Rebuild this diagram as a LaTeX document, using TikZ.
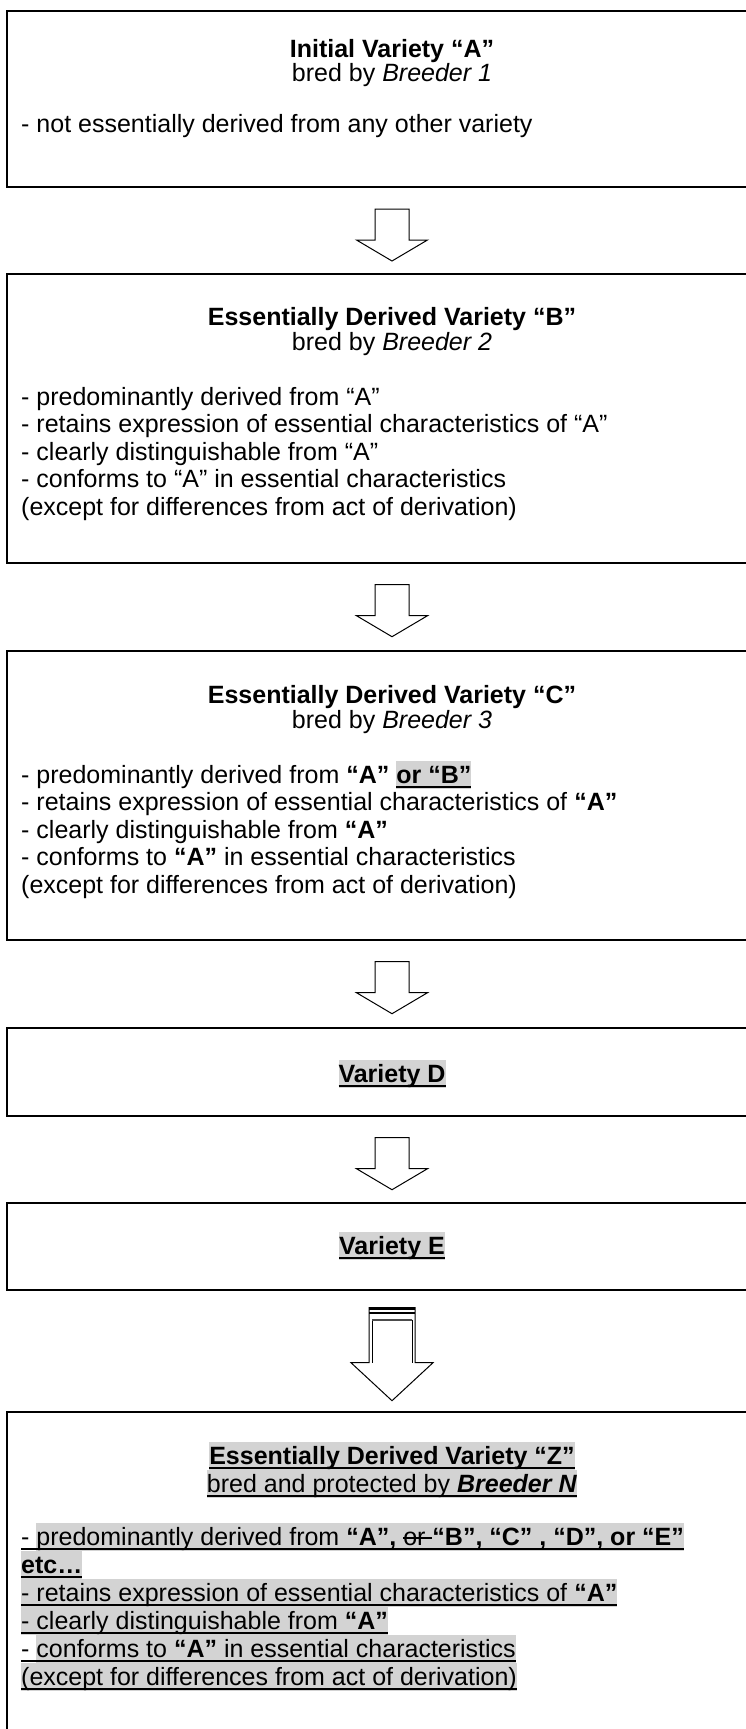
\documentclass[tikz,border=0pt]{standalone}
\usepackage{fontspec}
\setmainfont{Liberation Sans}
\usetikzlibrary{calc}
\definecolor{hlgray}{RGB}{211,211,211}
\newcommand\hlu[1]{\setbox0\hbox{#1}\rlap{\color{hlgray}\rule[-0.24em]{\wd0}{1.14em}}\rlap{\rule[-0.2em]{\wd0}{0.085em}}\box0}
\newcommand\ulo[1]{\setbox0\hbox{#1}\rlap{\rule[-0.2em]{\wd0}{0.085em}}\box0}
\newcommand\strk[1]{\setbox2\hbox{#1}\rlap{\rule[0.26em]{\wd2}{0.05em}}\box2}
\newcommand\blockarrow[1]{\draw[blk] ($(#1)+(-17,0)$) -- ++(34,0) -- ++(0,31) -- ++(18.5,0) -- ++(-35.5,21) -- ++(-35.5,-21) -- ++(18.5,0) -- cycle;}
\begin{document}
\begin{tikzpicture}[x=1pt,y=-1pt,
  box/.style={draw=black,line width=1.4pt,minimum width=770pt,inner sep=0pt},
  txt/.style={inner sep=0pt,anchor=base,font=\fontsize{25}{28}\selectfont},
  ltxt/.style={txt,anchor=base west},
  blk/.style={draw=black,line width=1pt,fill=white,line join=miter}]
\useasboundingbox (0,0) rectangle (746,1729);
\fill[white] (0,0) rectangle (746,1729);
\begin{scope}
\clip (0,0) rectangle (746,1729);
% boxes
\node[box,line width=2pt,minimum height=176pt] (A) at (392,99) {};
\node[box,minimum height=289pt] (B) at (392,418.5) {};
\node[box,minimum height=289pt] (C) at (392,795.5) {};
\node[box,minimum height=88pt] (D) at (392,1072) {};
\node[box,minimum height=87pt] (E) at (392,1246.5) {};
\node[box,line width=2pt,minimum height=348pt] (Z) at (392,1586) {};
% box A text
\node[txt] (A1) at (392,57.5) {\bfseries Initial Variety “A”};
\node[txt] (A2) at (392,81.5) {bred by \textit{Breeder 1}};
\node[ltxt] (A3) at (21,132) {- not essentially derived from any other variety};
% box B text
\node[txt] (B1) at (392,325) {\bfseries Essentially Derived Variety “B”};
\node[txt] (B2) at (392,350) {bred by \textit{Breeder 2}};
\node[ltxt] (B3) at (21,405) {- predominantly derived from “A”};
\node[ltxt] (B4) at (21,432.5) {- retains expression of essential characteristics of “A”};
\node[ltxt] (B5) at (21,460) {- clearly distinguishable from “A”};
\node[ltxt] (B6) at (21,487.5) {- conforms to “A” in essential characteristics};
\node[ltxt] (B7) at (21,515) {(except for differences from act of derivation)};
% box C text
\node[txt] (C1) at (392,703) {\bfseries Essentially Derived Variety “C”};
\node[txt] (C2) at (392,728) {bred by \textit{Breeder 3}};
\node[ltxt] (C3) at (21,783) {- predominantly derived from \textbf{“A”} \hlu{\bfseries or “B”}};
\node[ltxt] (C4) at (21,810.5) {- retains expression of essential characteristics of \textbf{“A”}};
\node[ltxt] (C5) at (21,838) {- clearly distinguishable from \textbf{“A”}};
\node[ltxt] (C6) at (21,865.5) {- conforms to \textbf{“A”} in essential characteristics};
\node[ltxt] (C7) at (21,893) {(except for differences from act of derivation)};
% box D, E text
\node[txt] (D1) at (392,1082) {\hlu{\bfseries Variety D}};
\node[txt] (E1) at (392,1254) {\hlu{\bfseries Variety E}};
% box Z text
\node[txt] (Z1) at (392,1464) {\hlu{\bfseries Essentially Derived Variety “Z”}};
\node[txt] (Z2) at (392,1492) {\hlu{bred and protected by \textbf{\textit{Breeder N}}}};
\node[ltxt] (Z3) at (21,1545) {\ulo{- }\hlu{predominantly derived from \textbf{“A”,} \strk{or }\textbf{“B”, “C” , “D”, or “E”}}};
\node[ltxt] (Z4) at (21,1573) {\hlu{\bfseries etc…}};
\node[ltxt] (Z5) at (21,1601) {\hlu{- retains expression of essential characteristics of \textbf{“A”}}};
\node[ltxt] (Z6) at (21,1629) {\hlu{- clearly distinguishable from \textbf{“A”}}};
\node[ltxt] (Z7) at (21,1657) {\ulo{- }\hlu{conforms to \textbf{“A”} in essential characteristics}};
\node[ltxt] (Z8) at (21,1685) {\hlu{(except for differences from act of derivation)}};
% arrows
\coordinate (a1) at ($(A.south)+(0,21)$);
\coordinate (a2) at ($(B.south)+(0,21)$);
\coordinate (a3) at ($(C.south)+(0,21)$);
\coordinate (a4) at ($(D.south)+(0,21)$);
\coordinate (a5) at ($(E.south)+(0,17)$);
\blockarrow{a1}
\blockarrow{a2}
\blockarrow{a3}
\blockarrow{a4}
\draw[blk] ($(a5)+(-23,0)$) -- ++(46,0) -- ++(0,55) -- ++(18,0) -- ++(-41,38) -- ++(-41,-38) -- ++(18,0) -- cycle;
\draw[line width=0.8pt] ($(a5)+(-20,12)$) -- ++(0,43);
\draw[line width=0.8pt] ($(a5)+(20,12)$) -- ++(0,43);
\draw[line width=2.4pt] ($(a5)+(-23,1.2)$) -- ++(46,0);
\draw[line width=1.6pt] ($(a5)+(-23,5.5)$) -- ++(46,0);
\draw[line width=2pt,black!70] ($(a5)+(-20,12.5)$) -- ++(40,0);
\end{scope}
\end{tikzpicture}
\end{document}
